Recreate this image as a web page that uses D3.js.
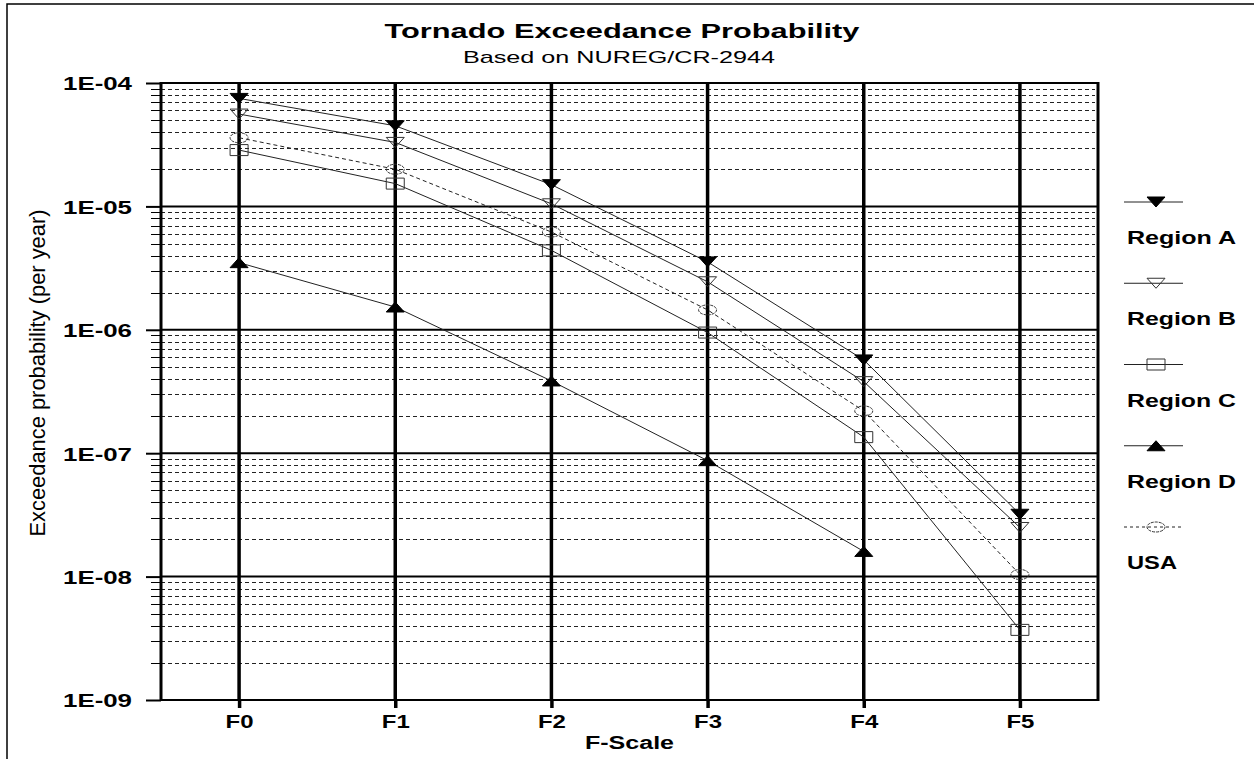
<!DOCTYPE html>
<html>
<head>
<meta charset="utf-8">
<script src="https://cdn.jsdelivr.net/npm/d3@7/dist/d3.min.js"></script>
<style>
  html, body { margin: 0; padding: 0; background: #fff; }
  svg { display: block; }
  text { font-family: "Liberation Sans", Arial, sans-serif; fill: #000; }
</style>
</head>
<body>
<svg id="chart" width="1254" height="759"></svg>
<script>
// ---- data ----
const categories = ["F0", "F1", "F2", "F3", "F4", "F5"];
const regionA = [7.5e-5, 4.5e-5, 1.5e-5, 3.55e-6, 5.7e-7, 3.2e-8];
const regionB = [5.6e-5, 3.3e-5, 1.05e-5, 2.45e-6, 3.8e-7, 2.5e-8];
const regionC = [2.86e-5, 1.53e-5, 4.4e-6, 9.5e-7, 1.35e-7, 3.7e-9];
const regionD = [3.5e-6, 1.53e-6, 3.85e-7, 8.7e-8, 1.6e-8];
const usa     = [3.6e-5, 2.0e-5, 6.2e-6, 1.45e-6, 2.2e-7, 1.04e-8];
const seriesNames = ["Region A", "Region B", "Region C", "Region D", "USA"];
const yTickValues = [1e-4, 1e-5, 1e-6, 1e-7, 1e-8, 1e-9];
const yTickLabels = ["1E-04", "1E-05", "1E-06", "1E-07", "1E-08", "1E-09"];
const titleText = "Tornado Exceedance Probability";
const subtitleText = "Based on NUREG/CR-2944";
const xTitle = "F-Scale";
const yTitle = "Exceedance probability (per year)";

// ---- layout ----
const L = 161, R = 1098, T = 83, B = 700;
const svg = d3.select("#chart");

const x = d3.scalePoint().domain(categories).range([L, R]).padding(0.5);
const y = d3.scaleLog().domain([1e-9, 1e-4]).range([B, T]);

// outer frame (only top/left visible)
svg.append("path").attr("d", "M7,760 V4 H1256")
  .attr("fill", "none").attr("stroke", "#000").attr("stroke-width", 1.5);

// minor gridlines (dashed) + minor ticks
const minor = [];
for (let e = -9; e < -4; e++) for (let m = 2; m <= 9; m++) minor.push(m * Math.pow(10, e));
const gMinor = svg.append("g");
gMinor.selectAll("line.grid").data(minor).join("line")
  .attr("x1", L).attr("x2", R - 3)
  .attr("y1", d => Math.round(y(d)) + 0.5).attr("y2", d => Math.round(y(d)) + 0.5)
  .attr("stroke", "#222").attr("stroke-width", 1).attr("stroke-dasharray", "4,3");
gMinor.selectAll("line.tick").data(minor).join("line")
  .attr("x1", L - 10).attr("x2", L)
  .attr("y1", d => Math.round(y(d)) + 0.5).attr("y2", d => Math.round(y(d)) + 0.5)
  .attr("stroke", "#000").attr("stroke-width", 1);

// major gridlines
svg.append("g").selectAll("line").data(yTickValues).join("line")
  .attr("x1", L).attr("x2", R)
  .attr("y1", d => y(d)).attr("y2", d => y(d))
  .attr("stroke", "#000").attr("stroke-width", 2);

// y axis ticks/labels
const yAxis = svg.append("g").attr("transform", `translate(${L},0)`)
  .call(d3.axisLeft(y).tickValues(yTickValues).tickFormat((d, i) => yTickLabels[i]).tickSize(15).tickPadding(14));
yAxis.select(".domain").remove();
yAxis.selectAll(".tick line").attr("stroke", "#000").attr("stroke-width", 2);
yAxis.selectAll(".tick text")
  .attr("font-size", 19).attr("font-weight", "bold")
  .attr("font-family", '"Liberation Sans", Arial, sans-serif')
  .attr("textLength", 69).attr("lengthAdjust", "spacingAndGlyphs")
  .attr("dy", "0.36em");

// vertical gridlines at categories (x axis)
const xAxis = svg.append("g").attr("transform", `translate(0,${B})`)
  .call(d3.axisBottom(x).tickSize(8).tickPadding(7));
xAxis.select(".domain").remove();
xAxis.selectAll(".tick line").attr("stroke", "#000").attr("stroke-width", 3.5);
xAxis.selectAll(".tick text")
  .attr("font-size", 19).attr("font-weight", "bold")
  .attr("font-family", '"Liberation Sans", Arial, sans-serif')
  .attr("textLength", 28).attr("lengthAdjust", "spacingAndGlyphs");
svg.append("g").selectAll("line").data(categories).join("line")
  .attr("x1", d => x(d)).attr("x2", d => x(d))
  .attr("y1", T).attr("y2", B)
  .attr("stroke", "#000").attr("stroke-width", 3.5);

// plot frame left/right
svg.append("line").attr("x1", L).attr("x2", L).attr("y1", T - 1).attr("y2", B + 1)
  .attr("stroke", "#000").attr("stroke-width", 3);
svg.append("line").attr("x1", R).attr("x2", R).attr("y1", T - 1).attr("y2", B + 1)
  .attr("stroke", "#000").attr("stroke-width", 3);

// ---- series ----
function markerPath(type) {
  const w = 9, h = 5;
  if (type === "down") return `M${-w},${-h}L${w},${-h}L0,${h}Z`;
  if (type === "up") return `M${-w},${h}L${w},${h}L0,${-h}Z`;
  if (type === "square") return `M${-w},${-5.5}H${w}V5.5H${-w}Z`;
  return null;
}
const seriesData = [
  { name: seriesNames[0], values: regionA, marker: "down", fill: "#000", dash: null },
  { name: seriesNames[1], values: regionB, marker: "down", fill: "none", dash: null },
  { name: seriesNames[2], values: regionC, marker: "square", fill: "none", dash: null },
  { name: seriesNames[3], values: regionD, marker: "up", fill: "#000", dash: null },
  { name: seriesNames[4], values: usa, marker: "circle", fill: "none", dash: "4,3" }
];

const line = d3.line().x((d, i) => x(categories[i])).y(d => y(d));
const gSeries = svg.append("g");
seriesData.forEach(s => {
  gSeries.append("path").datum(s.values).attr("d", line)
    .attr("fill", "none").attr("stroke", "#222").attr("stroke-width", 1)
    .attr("stroke-dasharray", s.dash);
});
function drawMarker(g, s, cx, cy) {
  if (s.marker === "circle") {
    g.append("ellipse").attr("cx", cx).attr("cy", cy).attr("rx", 9).attr("ry", 5)
      .attr("fill", "none").attr("stroke", "#333").attr("stroke-width", 1)
      .attr("stroke-dasharray", "3,1");
  } else {
    g.append("path").attr("d", markerPath(s.marker))
      .attr("transform", `translate(${cx},${cy})`)
      .attr("fill", s.fill).attr("stroke", s.fill === "none" ? "#333" : "#000").attr("stroke-width", 1);
  }
}
seriesData.forEach(s => {
  s.values.forEach((v, i) => drawMarker(gSeries, s, x(categories[i]), y(v)));
});

// ---- legend ----
const legend = svg.append("g");
seriesData.forEach((s, i) => {
  const sy = 202 + i * 81.25;
  legend.append("line").attr("x1", 1124).attr("x2", 1183).attr("y1", sy).attr("y2", sy)
    .attr("stroke", "#222").attr("stroke-width", 1).attr("stroke-dasharray", s.dash ? "3,3" : null);
  drawMarker(legend, s, 1156, sy);
  const t = legend.append("text").attr("x", 1127).attr("y", sy + 42)
    .attr("font-size", 19).attr("font-weight", "bold").text(s.name);
  t.attr("textLength", s.name === "USA" ? 50 : 109).attr("lengthAdjust", "spacingAndGlyphs");
});

// ---- titles ----
svg.append("text").attr("x", 622).attr("y", 38).attr("text-anchor", "middle")
  .attr("font-size", 21).attr("font-weight", "bold")
  .attr("textLength", 475).attr("lengthAdjust", "spacingAndGlyphs").text(titleText);
svg.append("text").attr("x", 619).attr("y", 63).attr("text-anchor", "middle")
  .attr("font-size", 17)
  .attr("textLength", 312).attr("lengthAdjust", "spacingAndGlyphs").text(subtitleText);
svg.append("text").attr("x", (L + R) / 2).attr("y", 749).attr("text-anchor", "middle")
  .attr("font-size", 18).attr("font-weight", "bold")
  .attr("textLength", 89).attr("lengthAdjust", "spacingAndGlyphs").text(xTitle);
svg.append("text").attr("transform", "translate(45,373) rotate(-90)").attr("text-anchor", "middle")
  .attr("font-size", 22)
  .attr("textLength", 327).attr("lengthAdjust", "spacingAndGlyphs").text(yTitle);
</script>
</body>
</html>
